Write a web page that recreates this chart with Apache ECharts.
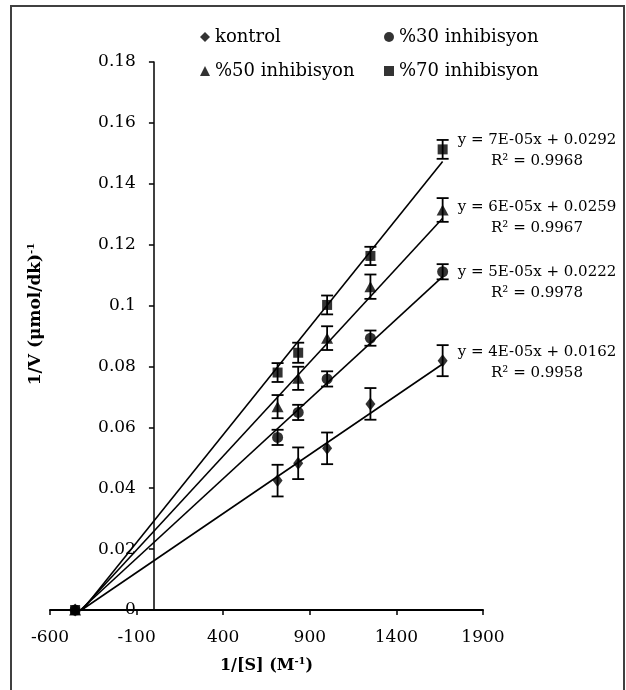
<!DOCTYPE html>
<html>
<head>
<meta charset="utf-8">
<script src="https://cdn.jsdelivr.net/npm/echarts@6/dist/echarts.min.js"></script>
<style>
html,body{margin:0;padding:0;background:#fff;}
#c{width:626px;height:690px;}
</style>
</head>
<body>
<div id="c"></div>
<script>
// ---- data ----
const xValues = [714, 833, 1000, 1250, 1667];
const seriesNames = ['kontrol', '%30 inhibisyon', '%50 inhibisyon', '%70 inhibisyon'];
const kontrol = [0.0425, 0.0482, 0.0531, 0.0677, 0.0819];
const kontrolErr = [0.0052, 0.0052, 0.0052, 0.0052, 0.0051];
const inh30 = [0.0567, 0.0649, 0.0759, 0.0893, 0.1111];
const inh30Err = [0.0025, 0.0025, 0.0025, 0.0025, 0.0025];
const inh50 = [0.0668, 0.0761, 0.0893, 0.1062, 0.1314];
const inh50Err = [0.0038, 0.0038, 0.0039, 0.0040, 0.0039];
const inh70 = [0.0780, 0.0845, 0.1002, 0.1163, 0.1513];
const inh70Err = [0.0031, 0.0033, 0.0031, 0.0030, 0.0031];
const interceptPointX = -455;           // extra point drawn on the x axis
const trendStartX = [-418, -424, -420, -413]; // trendline x at y = 0
const trendEndX = 1667;
const trendEndY = [0.0808, 0.1095, 0.1287, 0.1473];
const eqTexts = ['y = 4E-05x + 0.0162', 'y = 5E-05x + 0.0222', 'y = 6E-05x + 0.0259', 'y = 7E-05x + 0.0292'];
const r2Texts = ['R² = 0.9958', 'R² = 0.9978', 'R² = 0.9967', 'R² = 0.9968'];
const xTicks = {min: -600, max: 1900, interval: 500};
const yTicks = {min: 0, max: 0.18, interval: 0.02};

const values = [kontrol, inh30, inh50, inh70];
const errors = [kontrolErr, inh30Err, inh50Err, inh70Err];
const symbols = ['diamond', 'circle', 'triangle', 'rect'];
const symbolSizes = [[10, 13], 11, [12, 11], 10];
const FONT = 'DejaVu Serif';

// layout only
const GRID = {left: 50, right: 143, top: 62, bottom: 80};
const plotW = 626 - GRID.left - GRID.right;
const yAxisShift = -plotW * (0 - xTicks.min) / (xTicks.max - xTicks.min); // y axis crosses x at 0
const eqPos = [[537, 352], [537, 272], [537, 207], [537, 140]];
const legendPos = [[195, 23], [379, 23], [195, 57], [379, 57]];

const series = [];
for (let i = 0; i < 4; i++) {
  series.push({
    type: 'line', name: seriesNames[i] + ' trend', silent: true, showSymbol: false, symbol: 'none',
    data: [[trendStartX[i], 0], [trendEndX, trendEndY[i]]],
    lineStyle: {color: '#000', width: 1.6}, z: 2, legendHoverLink: false
  });
}
for (let i = 0; i < 4; i++) {
  series.push({
    type: 'custom', name: seriesNames[i] + ' err', silent: true, z: 3,
    data: xValues.map((x, k) => [x, values[i][k] - errors[i][k], values[i][k] + errors[i][k]]),
    renderItem: function (params, api) {
      const x = api.value(0);
      const p1 = api.coord([x, api.value(1)]);
      const p2 = api.coord([x, api.value(2)]);
      const w = 6;
      const st = {stroke: '#000', lineWidth: 1.8};
      return {type: 'group', children: [
        {type: 'line', shape: {x1: p1[0], y1: p1[1], x2: p2[0], y2: p2[1]}, style: st},
        {type: 'line', shape: {x1: p1[0] - w, y1: p1[1], x2: p1[0] + w, y2: p1[1]}, style: st},
        {type: 'line', shape: {x1: p2[0] - w, y1: p2[1], x2: p2[0] + w, y2: p2[1]}, style: st}
      ]};
    }
  });
}
for (let i = 0; i < 4; i++) {
  const pts = [[interceptPointX, 0]].concat(xValues.map((x, k) => [x, values[i][k]]));
  series.push({
    type: 'scatter', name: seriesNames[i], symbol: symbols[i], symbolSize: symbolSizes[i],
    itemStyle: {color: '#000'}, data: pts, z: 4 + i
  });
}

const legends = seriesNames.map((n, i) => ({
  data: [{name: n, icon: symbols[i]}], left: legendPos[i][0], top: legendPos[i][1],
  itemWidth: 10, itemHeight: 10, selectedMode: false,
  textStyle: {fontFamily: FONT, fontSize: 18, color: '#000'}
}));

const graphics = [{
  type: 'rect', shape: {x: 11, y: 6, width: 613, height: 700},
  style: {fill: 'none', stroke: '#404040', lineWidth: 2}, silent: true
}];
for (let i = 0; i < 4; i++) {
  graphics.push({type: 'text', x: eqPos[i][0], y: eqPos[i][1], style: {
    text: eqTexts[i], fontFamily: FONT, fontSize: 15, fill: '#000', align: 'center', verticalAlign: 'middle'}});
  graphics.push({type: 'text', x: eqPos[i][0], y: eqPos[i][1] + 21, style: {
    text: r2Texts[i], fontFamily: FONT, fontSize: 15, fill: '#000', align: 'center', verticalAlign: 'middle'}});
}

const chart = echarts.init(document.getElementById('c'), null, {renderer: 'canvas'});
chart.setOption({
  animation: false,
  backgroundColor: '#fff',
  grid: {left: GRID.left, right: GRID.right, top: GRID.top, bottom: GRID.bottom, containLabel: false, outerBoundsMode: 'none'},
  legend: legends,
  xAxis: {
    type: 'value', min: xTicks.min, max: xTicks.max, interval: xTicks.interval,
    splitLine: {show: false},
    axisLine: {onZero: false, lineStyle: {color: '#000', width: 2}},
    axisTick: {show: true, inside: false, length: 5, lineStyle: {color: '#000', width: 1.5}},
    axisLabel: {fontFamily: FONT, fontSize: 17, color: '#000', margin: 19, formatter: v => String(v)},
    name: '{a|1/[S] (M}{s|-1}{a|)}', nameLocation: 'middle', nameGap: 46,
    nameTextStyle: {rich: {
      a: {fontFamily: FONT, fontSize: 16, fontWeight: 'bold', color: '#000', lineHeight: 20},
      s: {fontFamily: FONT, fontSize: 10, fontWeight: 'bold', color: '#000', lineHeight: 12, verticalAlign: 'top'}
    }}
  },
  yAxis: {
    type: 'value', min: yTicks.min, max: yTicks.max, interval: yTicks.interval,
    position: 'left', offset: yAxisShift,
    splitLine: {show: false},
    axisLine: {onZero: false, lineStyle: {color: '#000', width: 1.5}},
    axisTick: {show: true, inside: false, length: 5, lineStyle: {color: '#000', width: 1.5}},
    axisLabel: {fontFamily: FONT, fontSize: 17, color: '#000', margin: 18},
    name: '{a|1/V (μmol/dk)}{s|-1}', nameLocation: 'middle', nameGap: 108, nameRotate: 90,
    nameTextStyle: {padding: [0, 0, 0, 44], rich: {
      a: {fontFamily: FONT, fontSize: 17, fontWeight: 'bold', color: '#000', lineHeight: 20},
      s: {fontFamily: FONT, fontSize: 10, fontWeight: 'bold', color: '#000', lineHeight: 12, verticalAlign: 'top'}
    }}
  },
  graphic: graphics,
  series: series
});
</script>
</body>
</html>
